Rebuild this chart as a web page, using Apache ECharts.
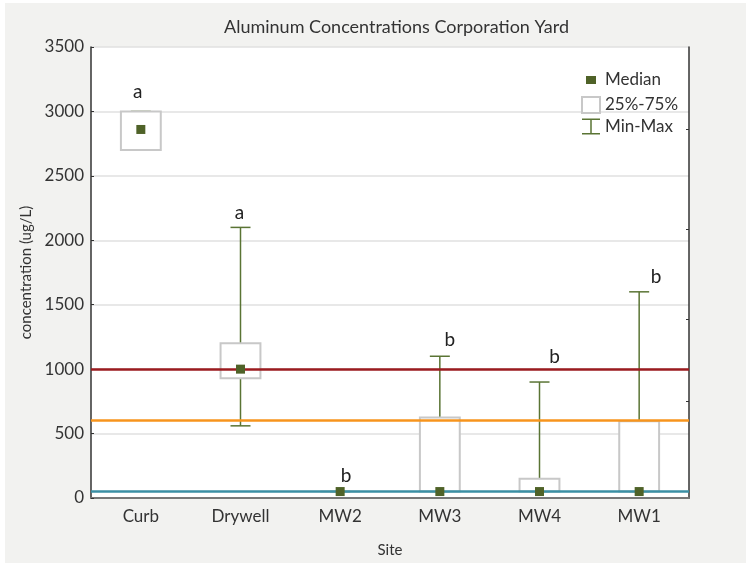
<!DOCTYPE html>
<html>
<head>
<meta charset="utf-8">
<script src="https://cdn.jsdelivr.net/npm/echarts@6/dist/echarts.min.js"></script>
<style>
    html, body { margin: 0; padding: 0; background: #ffffff; }
    #panel { position: absolute; left: 5px; top: 3px; width: 741px; height: 560px; background: #f2f2f0; }
    #chart-box { position: absolute; left: 0; top: 0; width: 746px; height: 563px; }
</style>
</head>
<body>
<div id="panel"></div>
<div id="chart-box"></div>
<script>
// 資料
const sites = ['Curb', 'Drywell', 'MW2', 'MW3', 'MW4', 'MW1'];
const minVals = [2700, 560, 50, 50, 50, 50];
const q1Vals = [2700, 930, 50, 50, 50, 50];
const medianVals = [2860, 1000, 50, 50, 50, 50];
const q3Vals = [3000, 1200, 50, 625, 150, 595];
const maxVals = [3000, 2100, 50, 1100, 900, 1600];
// 群組字母與其高度
const groupLetters = ['a', 'a', 'b', 'b', 'b', 'b'];
const letterHeights = [3150, 2215, 168, 1228, 1092, 1716];
// 參考線
const refValues = [1000, 600, 50];
const refColors = ['#9b1b1f', '#f7941d', '#3b8fa4'];
// 右側軸的小刻度
const rightTicks = [752, 1390, 2088, 2864];

const letterOffsets = [-3, -1, 6, 10, 15, 17];
const olive = '#4f6228';

boxChart();

function boxChart() {
    var chartDom = document.getElementById('chart-box');
    var myChart = echarts.init(chartDom);
    var option;

    const whiskerData = sites.map((s, i) => [i, minVals[i], q1Vals[i], q3Vals[i], maxVals[i]]);
    const boxData = sites.map((s, i) => [i, q1Vals[i], q3Vals[i]]);
    const medianData = sites.map((s, i) => [i, medianVals[i]]);
    const letterData = sites.map((s, i) => ({
        value: [i, letterHeights[i]],
        name: groupLetters[i],
        label: { offset: [letterOffsets[i], 0] }
    }));

    option = {
        backgroundColor: 'transparent',
        textStyle: { fontFamily: 'Lato' },
        title: {
            text: 'Aluminum Concentrations Corporation Yard',
            left: 219,
            top: 13,
            textStyle: { fontFamily: 'Lato', fontSize: 18, fontWeight: 'normal', color: '#333' }
        },
        legend: {
            orient: 'vertical',
            left: 573,
            top: 63,
            itemWidth: 18,
            itemHeight: 16,
            itemGap: 4,
            textStyle: { fontSize: 17, color: '#333' },
            data: [
                { name: 'Median', icon: 'rect', itemStyle: { color: olive, borderColor: '#fff', borderWidth: 8, opacity: 1 } },
                { name: '25%-75%', icon: 'rect', itemStyle: { color: '#fff', borderColor: '#c8c8c8', borderWidth: 2 } },
                { name: 'Min-Max', icon: 'path://M0,0H18V1.5H9.75V14.5H18V16H0V14.5H8.25V1.5H0Z', itemStyle: { color: '#5a7434' } }
            ]
        },
        grid: { left: 91, right: 57, top: 47, bottom: 65, show: true, backgroundColor: '#fff', borderWidth: 0 },
        xAxis: [
            {
                type: 'category',
                data: sites,
                name: 'Site',
                nameLocation: 'middle',
                nameGap: 45,
                nameTextStyle: { fontSize: 15, color: '#333' },
                axisLine: { lineStyle: { color: '#333', width: 1.5 } },
                axisTick: { alignWithLabel: true, length: 4, lineStyle: { color: '#333' } },
                axisLabel: { fontSize: 17, color: '#333', margin: 10 },
                splitLine: { show: false }
            },
            {
                type: 'category',
                data: sites,
                position: 'top',
                axisLine: { lineStyle: { color: '#777', width: 2 } },
                axisTick: { alignWithLabel: true, inside: true, length: 3, lineStyle: { color: '#333' } },
                axisLabel: { show: false }
            }
        ],
        yAxis: [
            {
                type: 'value',
                min: 0,
                max: 3500,
                interval: 500,
                name: 'concentration (ug/L)',
                nameLocation: 'middle',
                nameGap: 56,
                nameTextStyle: { fontSize: 15, color: '#333' },
                axisLine: { show: true, lineStyle: { color: '#333', width: 1.5 } },
                axisTick: { show: true, inside: true, length: 3, lineStyle: { color: '#333' } },
                axisLabel: { fontSize: 17, color: '#333', margin: 7, formatter: v => String(v) },
                splitLine: { lineStyle: { color: '#e0e0e0', width: 1.5 } }
            },
            {
                type: 'value',
                min: 0,
                max: 3500,
                position: 'right',
                axisLine: { show: true, lineStyle: { color: '#333', width: 1.5 } },
                axisTick: { show: true, inside: true, length: 3, customValues: rightTicks, lineStyle: { color: '#333' } },
                axisLabel: { show: false },
                splitLine: { show: false }
            }
        ],
        series: [
            {
                name: 'Min-Max',
                type: 'custom',
                z: 2,
                itemStyle: { color: '#5a7434' },
                encode: { x: 0, y: [1, 2, 3, 4] },
                data: whiskerData,
                renderItem: function (params, api) {
                    var idx = api.value(0);
                    var x = api.coord([idx, 0])[0];
                    var yMin = api.coord([idx, api.value(1)])[1];
                    var yQ1 = api.coord([idx, api.value(2)])[1];
                    var yQ3 = api.coord([idx, api.value(3)])[1];
                    var yMax = api.coord([idx, api.value(4)])[1];
                    var cap = 10;
                    var st = { stroke: '#5a7434', lineWidth: 1.5 };
                    return {
                        type: 'group',
                        children: [
                            { type: 'line', shape: { x1: x, y1: yQ1, x2: x, y2: yMin }, style: st },
                            { type: 'line', shape: { x1: x, y1: yQ3, x2: x, y2: yMax }, style: st },
                            { type: 'line', shape: { x1: x - cap, y1: yMin, x2: x + cap, y2: yMin }, style: st },
                            { type: 'line', shape: { x1: x - cap, y1: yMax, x2: x + cap, y2: yMax }, style: st }
                        ]
                    };
                }
            },
            {
                name: '25%-75%',
                type: 'custom',
                z: 3,
                itemStyle: { color: '#c8c8c8' },
                encode: { x: 0, y: [1, 2] },
                data: boxData,
                renderItem: function (params, api) {
                    var idx = api.value(0);
                    var x = api.coord([idx, 0])[0];
                    var yQ1 = api.coord([idx, api.value(1)])[1];
                    var yQ3 = api.coord([idx, api.value(2)])[1];
                    var w = api.size([1, 0])[0] * 0.4;
                    return {
                        type: 'rect',
                        shape: { x: x - w / 2, y: yQ3, width: w, height: yQ1 - yQ3 },
                        style: { fill: '#fff', stroke: '#c8c8c8', lineWidth: 2 }
                    };
                }
            },
            {
                name: 'ref',
                type: 'line',
                z: 4,
                data: [],
                markLine: {
                    silent: true,
                    symbol: 'none',
                    label: { show: false },
                    data: refValues.map((v, i) => ({
                        yAxis: v,
                        lineStyle: { color: refColors[i], width: 2.5, type: 'solid' }
                    }))
                }
            },
            {
                name: 'Median',
                type: 'scatter',
                z: 5,
                symbol: 'rect',
                symbolSize: 9,
                itemStyle: { color: olive, opacity: 1 },
                data: medianData
            },
            {
                name: 'letters',
                type: 'scatter',
                z: 6,
                symbolSize: 0,
                silent: true,
                itemStyle: { opacity: 1 },
                label: {
                    show: true,
                    position: 'inside',
                    formatter: '{b}',
                    fontSize: 19,
                    color: '#222'
                },
                data: letterData
            }
        ]
    };

    option && myChart.setOption(option);
}
</script>
</body>
</html>
